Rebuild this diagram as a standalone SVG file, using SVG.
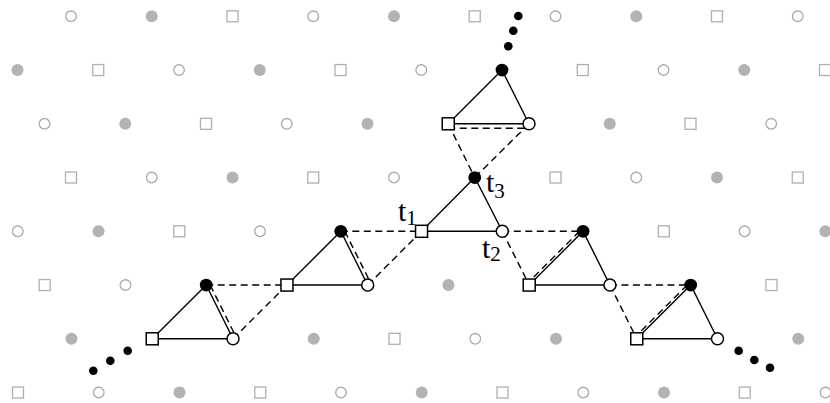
<svg xmlns="http://www.w3.org/2000/svg" xmlns:xlink="http://www.w3.org/1999/xlink" width="830" height="403" viewBox="0 0 830 403">
<style>
.gc{fill:#fff;stroke:#aaa;stroke-width:1.3}
.gd{fill:#b3b3b3}
.gs{fill:#fff;stroke:#b0b0b0;stroke-width:1.3}
.bc{fill:#fff;stroke:#000;stroke-width:1.5}
.bd{fill:#000}
.bs{fill:#fff;stroke:#000;stroke-width:1.5}
.sol{stroke:#000;stroke-width:1.4;fill:none}
.dsh{stroke:#000;stroke-width:1.4;fill:none;stroke-dasharray:7 4.5}
.lbl{font-family:"Liberation Serif","Times New Roman",serif;font-size:30px;fill:#000}
.sub{font-size:21px}
</style>
<defs>
<circle id="GC" class="gc" r="5.3"/>
<circle id="GD" class="gd" r="6"/>
<rect id="GS" class="gs" x="-5.5" y="-5.5" width="11" height="11"/>
<circle id="BC" class="bc" r="6"/>
<circle id="BD" class="bd" r="6.4"/>
<rect id="BS" class="bs" x="-6" y="-6" width="12" height="12"/>
<circle id="ED" class="bd" r="4.3"/>
</defs>
<rect width="830" height="403" fill="#fff"/>
<g id="lattice">
<use href="#GC" x="71" y="16.3"/><use href="#GD" x="151.75" y="16.3"/><use href="#GS" x="232.5" y="16.3"/><use href="#GC" x="313.25" y="16.3"/><use href="#GD" x="394" y="16.3"/><use href="#GS" x="474.75" y="16.3"/><use href="#GC" x="555.5" y="16.3"/><use href="#GD" x="636.25" y="16.3"/><use href="#GS" x="717" y="16.3"/><use href="#GC" x="797.75" y="16.3"/>
<use href="#GD" x="17.5" y="70.05"/><use href="#GS" x="98.25" y="70.05"/><use href="#GC" x="179" y="70.05"/><use href="#GD" x="259.75" y="70.05"/><use href="#GS" x="340.5" y="70.05"/><use href="#GC" x="421.25" y="70.05"/><use href="#GS" x="582.75" y="70.05"/><use href="#GC" x="663.5" y="70.05"/><use href="#GD" x="744.25" y="70.05"/><use href="#GS" x="825" y="70.05"/>
<use href="#GC" x="44.5" y="123.8"/><use href="#GD" x="125.25" y="123.8"/><use href="#GS" x="206" y="123.8"/><use href="#GC" x="286.75" y="123.8"/><use href="#GD" x="367.5" y="123.8"/><use href="#GD" x="609.75" y="123.8"/><use href="#GS" x="690.5" y="123.8"/><use href="#GC" x="771.25" y="123.8"/>
<use href="#GS" x="71" y="177.55"/><use href="#GC" x="151.75" y="177.55"/><use href="#GD" x="232.5" y="177.55"/><use href="#GS" x="313.25" y="177.55"/><use href="#GC" x="394" y="177.55"/><use href="#GS" x="555.5" y="177.55"/><use href="#GC" x="636.25" y="177.55"/><use href="#GD" x="717" y="177.55"/><use href="#GS" x="797.75" y="177.55"/>
<use href="#GC" x="17.8" y="231.3"/><use href="#GD" x="98.55" y="231.3"/><use href="#GS" x="179.3" y="231.3"/><use href="#GC" x="260.05" y="231.3"/><use href="#GS" x="663.8" y="231.3"/><use href="#GC" x="744.55" y="231.3"/><use href="#GD" x="825.3" y="231.3"/>
<use href="#GS" x="44.7" y="285.05"/><use href="#GC" x="125.45" y="285.05"/><use href="#GD" x="448.45" y="285.05"/><use href="#GS" x="771.45" y="285.05"/>
<use href="#GD" x="71.5" y="338.8"/><use href="#GD" x="313.75" y="338.8"/><use href="#GS" x="394.5" y="338.8"/><use href="#GC" x="475.25" y="338.8"/><use href="#GD" x="556" y="338.8"/><use href="#GD" x="798.25" y="338.8"/>
<use href="#GS" x="18" y="392.55"/><use href="#GC" x="98.75" y="392.55"/><use href="#GD" x="179.5" y="392.55"/><use href="#GS" x="260.25" y="392.55"/><use href="#GC" x="341" y="392.55"/><use href="#GD" x="421.75" y="392.55"/><use href="#GS" x="502.5" y="392.55"/><use href="#GC" x="583.25" y="392.55"/><use href="#GD" x="664" y="392.55"/><use href="#GS" x="744.75" y="392.55"/><use href="#GC" x="825.5" y="392.55"/>
</g>
<g id="connectors">
<path class="sol" d="M502,70.05 L448.25,123.8 L529,123.8 Z"/>
<path class="sol" d="M474.75,177.55 L421.55,231.3 L502.3,231.3 Z"/>
<path class="sol" d="M340.8,231.3 L286.95,285.05 L367.7,285.05 Z"/>
<path class="sol" d="M206.2,285.05 L152.25,338.8 L233,338.8 Z"/>
<path class="sol" d="M583.05,231.3 L529.2,285.05 L609.95,285.05 Z"/>
<path class="sol" d="M690.7,285.05 L636.75,338.8 L717.5,338.8 Z"/>
<line class="dsh" x1="448.25" y1="128.3" x2="529" y2="128.3"/>
<line class="dsh" x1="448.25" y1="123.8" x2="474.75" y2="177.55"/>
<line class="dsh" x1="529" y1="123.8" x2="474.75" y2="177.55"/>
<line class="dsh" x1="340.8" y1="231.3" x2="421.55" y2="231.3"/>
<line class="dsh" x1="367.7" y1="285.05" x2="421.55" y2="231.3"/>
<line class="dsh" x1="344.8" y1="231.3" x2="371.7" y2="285.05"/>
<line class="dsh" x1="206.2" y1="285.05" x2="286.95" y2="285.05"/>
<line class="dsh" x1="233" y1="338.8" x2="286.95" y2="285.05"/>
<line class="dsh" x1="210.2" y1="285.05" x2="237" y2="338.8"/>
<line class="dsh" x1="502.3" y1="231.3" x2="583.05" y2="231.3"/>
<line class="dsh" x1="502.3" y1="231.3" x2="529.2" y2="285.05"/>
<line class="dsh" x1="525.7" y1="285.05" x2="579.55" y2="231.3"/>
<line class="dsh" x1="609.95" y1="285.05" x2="690.7" y2="285.05"/>
<line class="dsh" x1="609.95" y1="285.05" x2="636.75" y2="338.8"/>
<line class="dsh" x1="633.25" y1="338.8" x2="687.2" y2="285.05"/>
</g>
<g id="tri-top">
<use href="#BD" x="502" y="70.05"/><use href="#BS" x="448.25" y="123.8"/><use href="#BC" x="529" y="123.8"/>
</g>
<g id="t3"><use href="#BD" x="474.75" y="177.55"/></g>
<g id="t1"><use href="#BS" x="421.55" y="231.3"/></g>
<g id="t2"><use href="#BC" x="502.3" y="231.3"/></g>
<g id="tri-left1">
<use href="#BD" x="340.8" y="231.3"/><use href="#BS" x="286.95" y="285.05"/><use href="#BC" x="367.7" y="285.05"/>
</g>
<g id="tri-left2">
<use href="#BD" x="206.2" y="285.05"/><use href="#BS" x="152.25" y="338.8"/><use href="#BC" x="233" y="338.8"/>
</g>
<g id="tri-right1">
<use href="#BD" x="583.05" y="231.3"/><use href="#BS" x="529.2" y="285.05"/><use href="#BC" x="609.95" y="285.05"/>
</g>
<g id="tri-right2">
<use href="#BD" x="690.7" y="285.05"/><use href="#BS" x="636.75" y="338.8"/><use href="#BC" x="717.5" y="338.8"/>
</g>
<g id="ellipses">
<use href="#ED" x="518.3" y="16"/><use href="#ED" x="513.3" y="30.7"/><use href="#ED" x="508.3" y="46.3"/>
<use href="#ED" x="127.7" y="350.7"/><use href="#ED" x="110.3" y="360.7"/><use href="#ED" x="93.3" y="370.7"/>
<use href="#ED" x="738.7" y="350.7"/><use href="#ED" x="754.3" y="360"/><use href="#ED" x="770" y="367.7"/>
</g>
<g id="labels">
<text class="lbl" x="398" y="221">t<tspan class="sub" dy="4">1</tspan></text>
<text class="lbl" x="482" y="258">t<tspan class="sub" dy="3">2</tspan></text>
<text class="lbl" x="486" y="192">t<tspan class="sub" dy="6">3</tspan></text>
</g>
</svg>
